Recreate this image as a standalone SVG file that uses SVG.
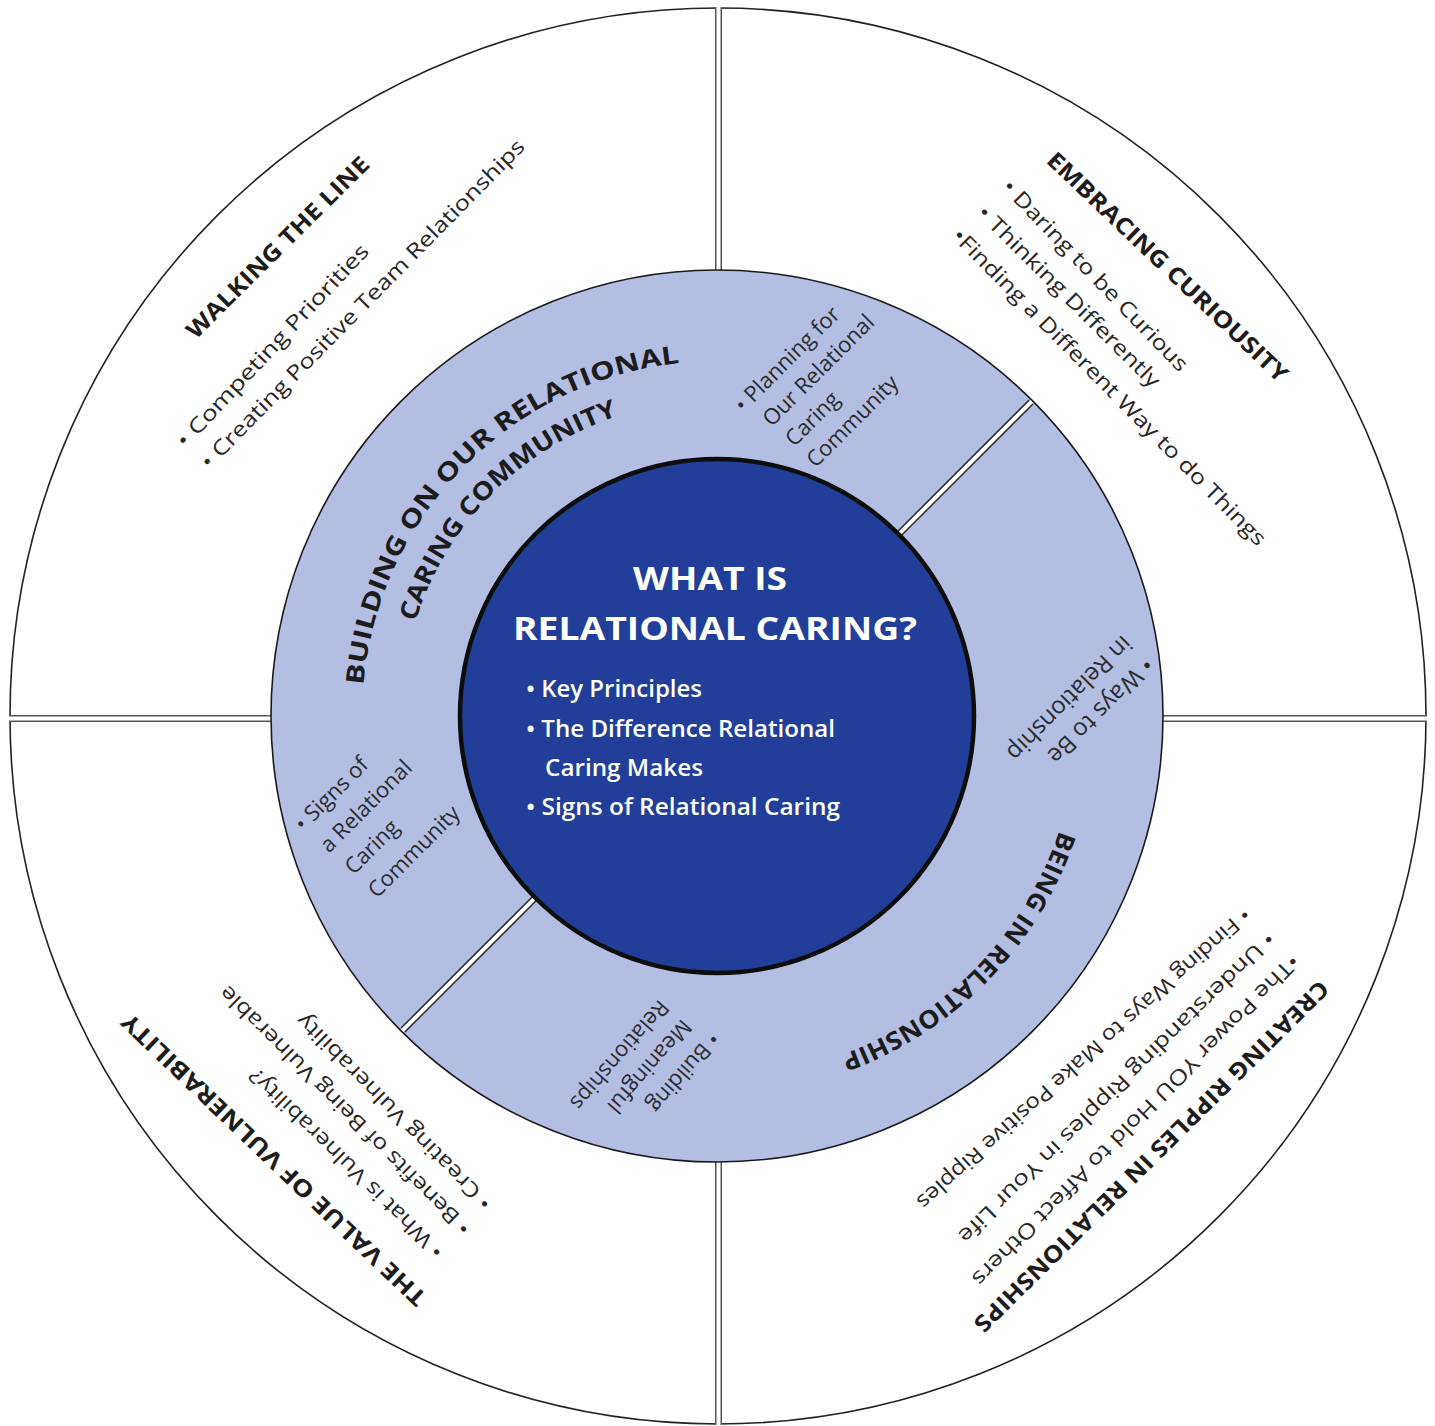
<svg xmlns="http://www.w3.org/2000/svg" width="1435" height="1426" viewBox="0 0 1435 1426">
<style>
.t{font-family:"Open Sans","Liberation Sans",sans-serif;fill:#1c1c1c}
.qt{font-size:23px;font-weight:700}
.qb{font-size:21px;fill:#262626}
.rt{font-size:25px;font-weight:700}
.rs{font-size:22px;fill:#2b2b2b}
.rl{font-size:24px;fill:#2b2b2b}
.ct{font-family:"Open Sans","Liberation Sans",sans-serif;fill:#fff;font-weight:700;font-size:33px}
.cb{font-family:"Open Sans","Liberation Sans",sans-serif;fill:#fff;font-size:23px;font-weight:600}
.dk{stroke:#555;stroke-width:7}
.dd{stroke:#2a2a2a;stroke-width:7}
.wh{stroke:#fff;stroke-width:4}
</style>
<defs>
<path id="arcBuilding" d="M363.35,685.06 A355,355 0 0 1 679.89,362.95"/>
<path id="arcCaring" d="M415.3,622.0 A316,316 0 0 1 618.3,415.8"/>
<path id="arcBeing" d="M1059.3,830.5 A361,361 0 0 1 840.5,1055.2"/>
</defs>
<rect width="1435" height="1426" fill="#fff"/>
<g id="outer-circle">
<circle cx="718" cy="716" r="708" fill="#fff" stroke="#222" stroke-width="1.6"/>
</g>
<g id="connectors">
<line class="dk" x1="718.5" y1="8" x2="718.5" y2="275"/>
<line class="wh" x1="718.5" y1="6" x2="718.5" y2="275"/>
<line class="dk" x1="718.5" y1="1158" x2="718.5" y2="1424"/>
<line class="wh" x1="718.5" y1="1158" x2="718.5" y2="1426"/>
<line class="dk" x1="10" y1="718.5" x2="275" y2="718.5"/>
<line class="wh" x1="8" y1="718.5" x2="275" y2="718.5"/>
<line class="dk" x1="1160" y1="718.5" x2="1426" y2="718.5"/>
<line class="wh" x1="1160" y1="718.5" x2="1428" y2="718.5"/>
</g>
<g id="ring">
<circle cx="717" cy="716" r="446" fill="#b4bee2" stroke="#1a1a1a" stroke-width="1.6"/>
<line class="dd" x1="896.6" y1="536.4" x2="1031" y2="402"/>
<line class="wh" x1="896.6" y1="536.4" x2="1031.7" y2="401.3"/>
<line class="dd" x1="537.4" y1="895.6" x2="403" y2="1030"/>
<line class="wh" x1="537.4" y1="895.6" x2="402.3" y2="1030.7"/>
</g>
<g id="center">
<circle cx="717" cy="716" r="257" fill="#213f99" stroke="#0d0d0d" stroke-width="4.5"/>
<text class="ct" x="710" y="590" text-anchor="middle" textLength="154" lengthAdjust="spacingAndGlyphs">WHAT IS</text>
<text class="ct" x="715" y="640" text-anchor="middle" textLength="404" lengthAdjust="spacingAndGlyphs">RELATIONAL CARING?</text>
<text class="cb" x="526" y="697" textLength="176" lengthAdjust="spacingAndGlyphs">• Key Principles</text>
<text class="cb" x="526" y="737" textLength="309" lengthAdjust="spacingAndGlyphs">• The Difference Relational</text>
<text class="cb" x="545" y="776" textLength="158" lengthAdjust="spacingAndGlyphs">Caring Makes</text>
<text class="cb" x="526" y="815" textLength="314" lengthAdjust="spacingAndGlyphs">• Signs of Relational Caring</text>
</g>
<g id="building-community">
<text class="t rt"><textPath href="#arcBuilding" textLength="489" lengthAdjust="spacingAndGlyphs">BUILDING ON OUR RELATIONAL</textPath></text>
<text class="t rt"><textPath href="#arcCaring" textLength="300" lengthAdjust="spacingAndGlyphs">CARING COMMUNITY</textPath></text>
<g transform="translate(738 408) rotate(-45)">
<text class="t rs" x="0" y="0" dy="0.35em">• Planning for</text>
<text class="t rs" x="10" y="30" dy="0.35em">Our Relational</text>
<text class="t rs" x="12" y="60" dy="0.35em">Caring</text>
<text class="t rs" x="12" y="90" dy="0.35em">Community</text>
</g>
<g transform="translate(298 827) rotate(-45)">
<text class="t rs" x="0" y="0" dy="0.35em">• Signs of</text>
<text class="t rs" x="3" y="33" dy="0.35em">a Relational</text>
<text class="t rs" x="5" y="66" dy="0.35em">Caring</text>
<text class="t rs" x="5" y="99" dy="0.35em">Community</text>
</g>
</g>
<g id="being-in-relationship">
<text class="t rt"><textPath href="#arcBeing" textLength="324" lengthAdjust="spacingAndGlyphs">BEING IN RELATIONSHIP</textPath></text>
<g transform="translate(1150 662) rotate(135)">
<text class="t rl" x="0" y="0" dy="0.35em">• Ways to Be</text>
<text class="t rl" x="0" y="31" dy="0.35em">in Relationship</text>
</g>
<g transform="translate(716 1036) rotate(131)">
<text class="t rs" x="0" y="0" dy="0.35em">• Building</text>
<text class="t rs" x="9" y="30" dy="0.35em">Meaningful</text>
<text class="t rs" x="9" y="60" dy="0.35em">Relationships</text>
</g>
</g>
<g id="walking-the-line">
<text class="t qt" transform="translate(190 334) rotate(-44.8)" dy="0.36em" textLength="247" lengthAdjust="spacingAndGlyphs">WALKING THE LINE</text>
<text class="t qb" transform="translate(180 444) rotate(-46.8)" dy="0.35em" textLength="270" lengthAdjust="spacingAndGlyphs">• Competing Priorities</text>
<text class="t qb" transform="translate(204 465) rotate(-45.5)" dy="0.35em" textLength="452" lengthAdjust="spacingAndGlyphs">• Creating Positive Team Relationships</text>
</g>
<g id="embracing-curiousity">
<text class="t qt" transform="translate(1051 156) rotate(43.5)" dy="0.36em" textLength="322" lengthAdjust="spacingAndGlyphs">EMBRACING CURIOUSITY</text>
<text class="t qb" transform="translate(1006 183) rotate(46)" dy="0.35em" textLength="257" lengthAdjust="spacingAndGlyphs">• Daring to be Curious</text>
<text class="t qb" transform="translate(981 209) rotate(44.8)" dy="0.35em" textLength="248" lengthAdjust="spacingAndGlyphs">• Thinking Differently</text>
<text class="t qb" transform="translate(956 232) rotate(45.3)" dy="0.35em" textLength="436" lengthAdjust="spacingAndGlyphs">•Finding a Different Way to do Things</text>
</g>
<g id="value-of-vulnerability">
<text class="t qt" transform="translate(422 1302) rotate(-136.3)" dy="0.36em" textLength="411" lengthAdjust="spacingAndGlyphs">THE VALUE OF VULNERABILITY</text>
<text class="t qb" transform="translate(440 1255) rotate(-135.8)" dy="0.35em" textLength="262" lengthAdjust="spacingAndGlyphs">• What is Vulnerability?</text>
<text class="t qb" transform="translate(467 1232) rotate(-135.2)" dy="0.35em" textLength="344" lengthAdjust="spacingAndGlyphs">• Benefits of Being Vulnerable</text>
<text class="t qb" transform="translate(488 1207) rotate(-134.8)" dy="0.35em" textLength="267" lengthAdjust="spacingAndGlyphs">• Creating Vulnerability</text>
</g>
<g id="creating-ripples">
<text class="t qt" transform="translate(1325 985) rotate(135.3)" dy="0.36em" textLength="488" lengthAdjust="spacingAndGlyphs">CREATING RIPPLES IN RELATIONSHIPS</text>
<text class="t qb" transform="translate(1248 912) rotate(138.2)" dy="0.35em" textLength="440" lengthAdjust="spacingAndGlyphs">• Finding Ways to Make Positive Ripples</text>
<text class="t qb" transform="translate(1272 936) rotate(135.6)" dy="0.35em" textLength="434" lengthAdjust="spacingAndGlyphs">• Understanding Ripples in Your Life</text>
<text class="t qb" transform="translate(1296 958) rotate(134.6)" dy="0.35em" textLength="456" lengthAdjust="spacingAndGlyphs">•The Power YOU Hold to Affect Others</text>
</g>
</svg>
